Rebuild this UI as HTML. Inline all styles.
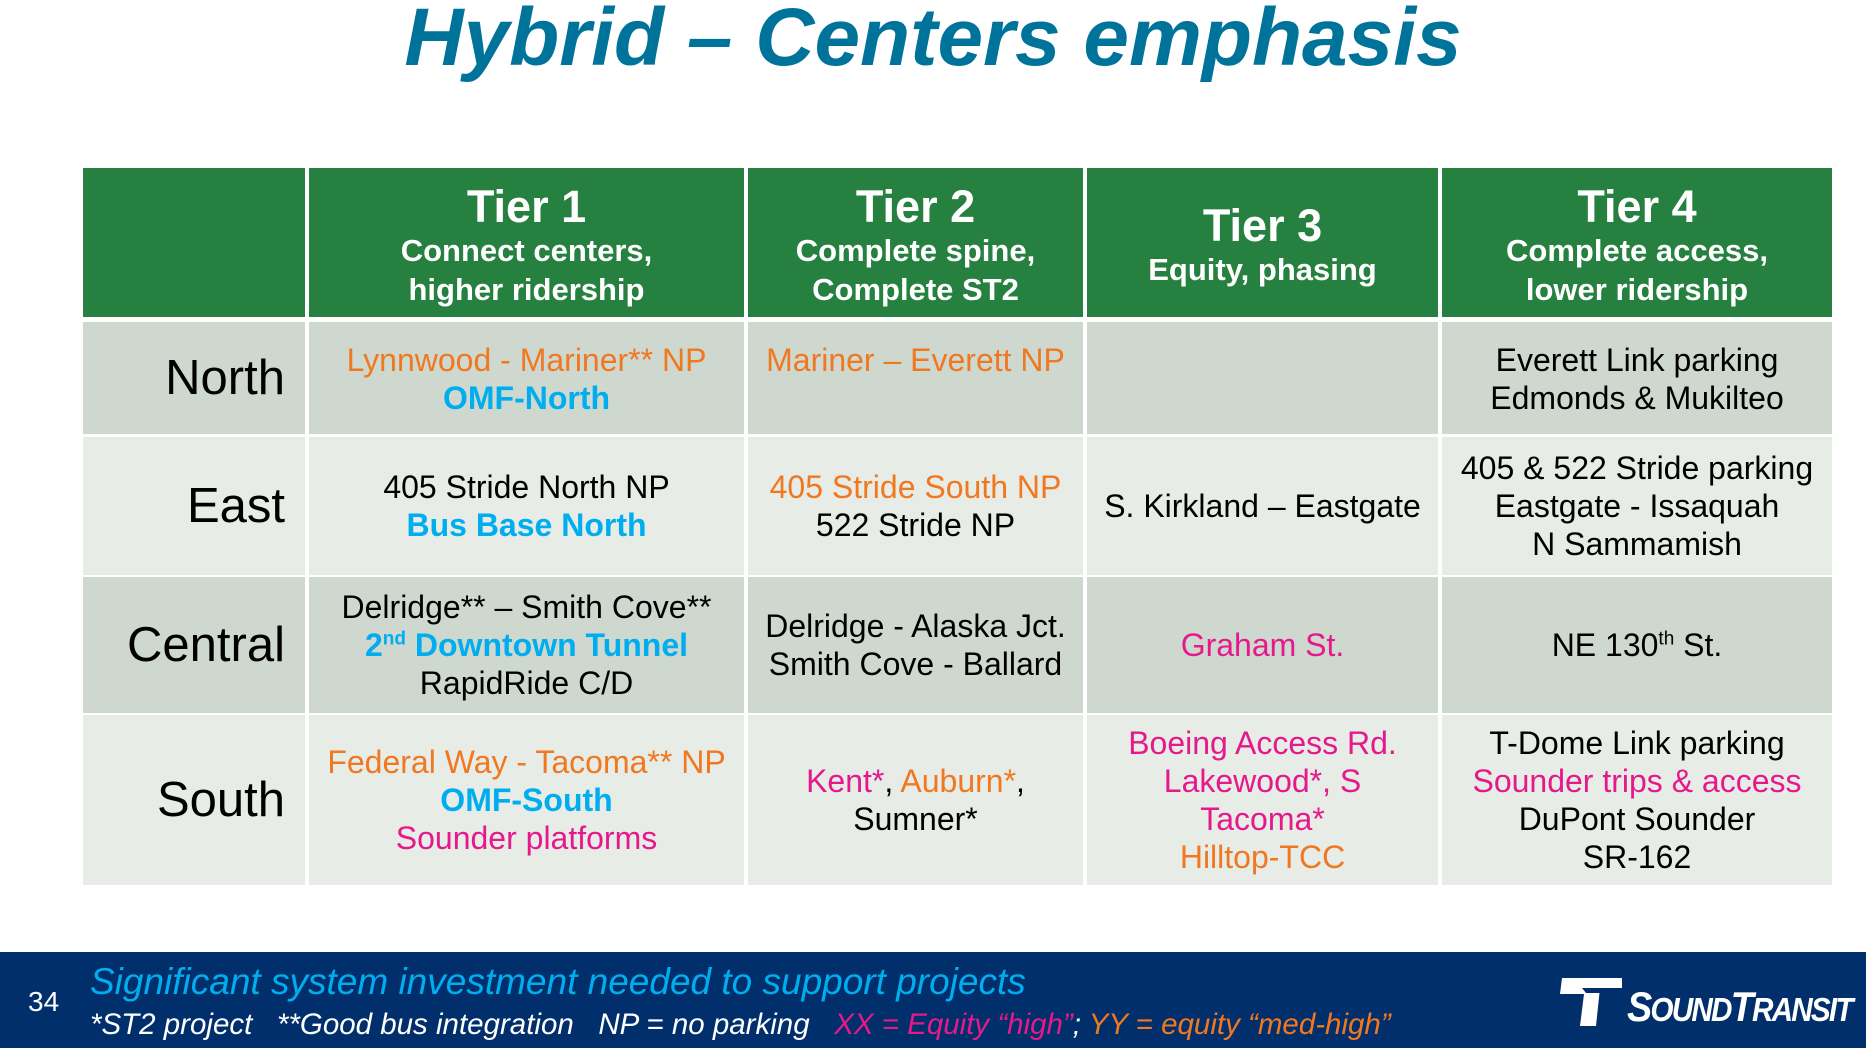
<!DOCTYPE html>
<html><head><meta charset="utf-8"><style>
*{margin:0;padding:0;box-sizing:border-box}
body{width:1866px;height:1048px;background:#fff;position:relative;overflow:hidden;font-family:"Liberation Sans",Arial,sans-serif}
.title{position:absolute;left:0;width:1866px;top:-7px;text-align:center;font-size:82px;font-weight:bold;font-style:italic;color:#00739a;line-height:90px}
.c{position:absolute;display:flex;flex-direction:column;justify-content:center;align-items:center;text-align:center;font-size:32px;line-height:38px;color:#000}
.h{background:#268040;color:#fff;font-weight:bold;padding-top:6px}
.h .t{font-size:45px;line-height:48px}
.h .s{font-size:31px;line-height:39px}
.d{background:#cfd8cf}.l{background:#e7ece7}
.lab{align-items:flex-end;padding-right:20px;font-size:49px}
.o{color:#f07820}.b{color:#00aeef;font-weight:bold}.m{color:#e6198c}
sup{font-size:19px;line-height:0}
.foot{position:absolute;left:0;top:952px;width:1866px;height:96px;background:#002f6c}
</style></head><body>
<div class="title">Hybrid – Centers emphasis</div>

<div class="c h" style="left:83px;top:168px;width:222px;height:149px"></div>
<div class="c h" style="left:309px;top:168px;width:435px;height:149px"><div class="t">Tier 1</div><div class="s">Connect centers,<br>higher ridership</div></div>
<div class="c h" style="left:748px;top:168px;width:335px;height:149px"><div class="t">Tier 2</div><div class="s">Complete spine,<br>Complete ST2</div></div>
<div class="c h" style="left:1087px;top:168px;width:351px;height:149px"><div class="t">Tier 3</div><div class="s">Equity, phasing</div></div>
<div class="c h" style="left:1442px;top:168px;width:390px;height:149px"><div class="t">Tier 4</div><div class="s">Complete access,<br>lower ridership</div></div>

<div class="c d lab" style="left:83px;top:322px;width:222px;height:112px">North</div>
<div class="c d" style="left:309px;top:322px;width:435px;height:112px;justify-content:flex-start;padding-top:19px"><div class="o">Lynnwood - Mariner** NP</div><div class="b">OMF-North</div></div>
<div class="c d" style="left:748px;top:322px;width:335px;height:112px;justify-content:flex-start;padding-top:19px"><div class="o">Mariner – Everett NP</div></div>
<div class="c d" style="left:1087px;top:322px;width:351px;height:112px"></div>
<div class="c d" style="left:1442px;top:322px;width:390px;height:112px;justify-content:flex-start;padding-top:19px"><div>Everett Link parking</div><div>Edmonds &amp; Mukilteo</div></div>

<div class="c l lab" style="left:83px;top:437px;width:222px;height:138px">East</div>
<div class="c l" style="left:309px;top:437px;width:435px;height:138px"><div>405 Stride North NP</div><div class="b">Bus Base North</div></div>
<div class="c l" style="left:748px;top:437px;width:335px;height:138px"><div class="o">405 Stride South NP</div><div>522 Stride NP</div></div>
<div class="c l" style="left:1087px;top:437px;width:351px;height:138px"><div>S. Kirkland – Eastgate</div></div>
<div class="c l" style="left:1442px;top:437px;width:390px;height:138px"><div>405 &amp; 522 Stride parking</div><div>Eastgate - Issaquah</div><div>N Sammamish</div></div>

<div class="c d lab" style="left:83px;top:577px;width:222px;height:136px">Central</div>
<div class="c d" style="left:309px;top:577px;width:435px;height:136px"><div>Delridge** – Smith Cove**</div><div class="b">2<sup>nd</sup> Downtown Tunnel</div><div>RapidRide C/D</div></div>
<div class="c d" style="left:748px;top:577px;width:335px;height:136px"><div>Delridge - Alaska Jct.</div><div>Smith Cove - Ballard</div></div>
<div class="c d" style="left:1087px;top:577px;width:351px;height:136px"><div class="m">Graham St.</div></div>
<div class="c d" style="left:1442px;top:577px;width:390px;height:136px"><div>NE 130<sup>th</sup> St.</div></div>

<div class="c l lab" style="left:83px;top:715px;width:222px;height:170px">South</div>
<div class="c l" style="left:309px;top:715px;width:435px;height:170px"><div class="o">Federal Way - Tacoma** NP</div><div class="b">OMF-South</div><div class="m">Sounder platforms</div></div>
<div class="c l" style="left:748px;top:715px;width:335px;height:170px"><div><span class="m">Kent*</span>, <span class="o">Auburn*</span>,</div><div>Sumner*</div></div>
<div class="c l" style="left:1087px;top:715px;width:351px;height:170px"><div class="m">Boeing Access Rd.</div><div class="m">Lakewood*, S</div><div class="m">Tacoma*</div><div class="o">Hilltop-TCC</div></div>
<div class="c l" style="left:1442px;top:715px;width:390px;height:170px"><div>T-Dome Link parking</div><div class="m">Sounder trips &amp; access</div><div>DuPont Sounder</div><div>SR-162</div></div>

<div class="foot">
<div style="position:absolute;left:28px;top:34px;color:#fff;font-size:28px">34</div>
<div style="position:absolute;left:90px;top:9px;color:#00aeef;font-size:37px;font-style:italic;white-space:nowrap">Significant system investment needed to support projects</div>
<div style="position:absolute;left:90px;top:56px;color:#fff;font-size:29.5px;font-style:italic;white-space:nowrap">*ST2 project&nbsp;&nbsp;&nbsp;**Good bus integration&nbsp;&nbsp;&nbsp;NP = no parking&nbsp;&nbsp;&nbsp;<span style="color:#e6198c">XX = Equity “high”</span>; <span style="color:#f07820">YY = equity “med-high”</span></div>
<svg style="position:absolute;left:1560px;top:26px" width="64" height="48" viewBox="0 0 64 48">
<path d="M2 0 H62 V10 H40 L36 48 H20 L24 16 H0 Z" fill="#fff"/>
<path d="M22 10 H40 V15 H26 Z" fill="#002f6c"/>
</svg>
<div style="position:absolute;left:1627px;top:34px;color:#fff;font-size:42px;font-weight:bold;font-style:italic;white-space:nowrap;letter-spacing:-2px;transform:scaleX(0.9);transform-origin:left top;line-height:42px">S<span style="font-size:33px">OUND</span>T<span style="font-size:33px">RANSIT</span></div>
</div>
</body></html>
